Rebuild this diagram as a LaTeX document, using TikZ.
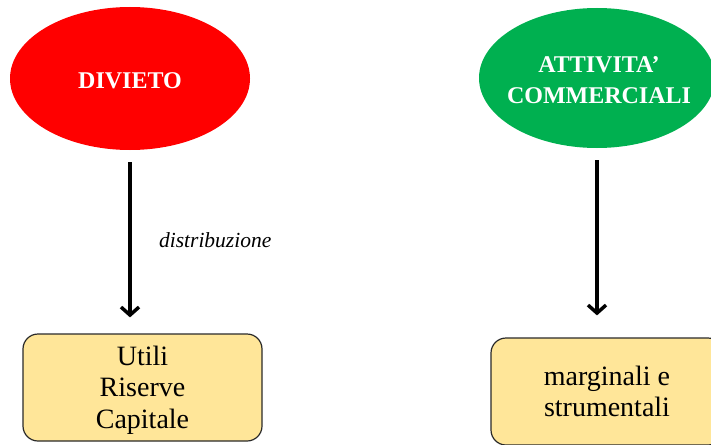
\documentclass[tikz,border=0pt]{standalone}
\usepackage{fontspec}
\setmainfont{Liberation Serif}
\usetikzlibrary{shapes.geometric,arrows.meta}
\definecolor{redfill}{HTML}{FF0000}
\definecolor{greenfill}{HTML}{00B050}
\definecolor{boxfill}{HTML}{FFE699}
\definecolor{boxline}{HTML}{2A2A2A}
\tikzset{
  oval/.style={ellipse, draw=none, inner sep=0pt},
  ovaltext/.style={inner sep=0pt, text=white, align=center,
    font=\fontsize{24}{31}\selectfont\bfseries},
  infobox/.style={rounded corners=15pt, draw=boxline, line width=1.2pt, fill=boxfill,
    align=center, inner sep=0pt, font=\fontsize{28}{31.5}\selectfont},
  arr/.style={line width=3.5pt, -{Straight Barb[length=8pt,width=18pt]}},
  lbl/.style={font=\fontsize{21.5}{24}\selectfont\itshape}
}
\begin{document}
\begin{tikzpicture}[x=1pt,y=-1pt]
\useasboundingbox (0,0) rectangle (711,444);
\node[oval, fill=redfill, minimum width=240pt, minimum height=143pt] (div) at (130,78.5) {};
\node[ovaltext] (divt) at ([yshift=-2pt]div.center) {DIVIETO};
\node[oval, fill=greenfill, minimum width=236pt, minimum height=140pt] (att) at (597,78) {};
\node[ovaltext] (attt) at ([xshift=2pt,yshift=-2pt]att.center) {ATTIVITA’\\COMMERCIALI};
\node[infobox, minimum width=239pt, minimum height=107pt] (ut) at (142.5,387.5) {\rule{0pt}{24pt}Utili\\Riserve\\Capitale};
\node[infobox, minimum width=232pt, minimum height=107pt] (mar) at (607,391.5) {marginali e\\strumentali};
\draw[arr] ([yshift=-12pt]div.south) -- ([yshift=16pt]div.south |- ut.north)
  node[midway, anchor=west, xshift=24pt, lbl] (dist) {distribuzione};
\draw[arr] ([yshift=-12pt]att.south) -- ([yshift=22pt]att.south |- mar.north);
\end{tikzpicture}
\end{document}
